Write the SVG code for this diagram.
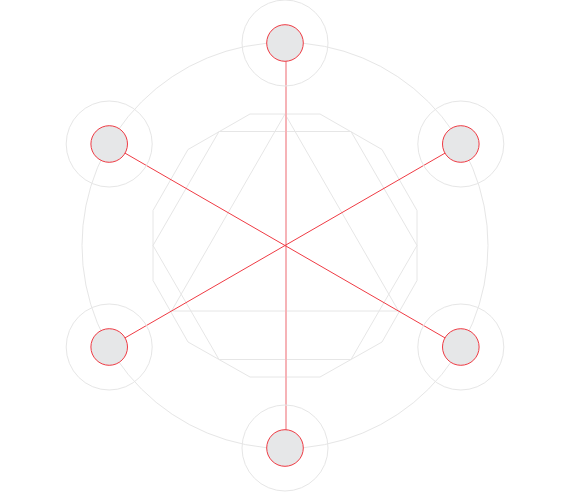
<svg xmlns="http://www.w3.org/2000/svg" width="570" height="492" viewBox="0 0 570 492">
<style>
.g{fill:none;stroke:#e6e6e6;stroke-width:1}
.c{stroke:#ef3b44;stroke-width:1;fill:none}
.v{stroke:#f6b3b7;stroke-width:2;fill:none}
.n{fill:#e6e7e8;stroke:#ef3b44;stroke-width:1}
.h{fill:none;stroke:#e6e6e6;stroke-width:1}
</style>
<rect width="570" height="492" fill="#ffffff"/>
<g id="guides">
<circle class="g" cx="285" cy="245.5" r="203"/>
<polygon class="g" points="250,114 320,114 382,149.5 417,210.5 417,280.5 382,342 320,377 250,377 188,342 153,280.5 153,210.5 188,149.5"/>
<polygon class="g" points="219,131.5 351,131.5 417,245.5 351,359.5 219,359.5 153,245.5"/>
<polygon class="g" points="285,114 398.5,311 171.5,311"/>
</g>
<g id="connectors">
<line class="v" x1="286" y1="43" x2="286" y2="448"/>
<line class="c" x1="109.2" y1="144" x2="460.8" y2="347"/>
<line class="c" x1="460.8" y1="144" x2="109.2" y2="347"/>
</g>
<g id="node-top"><circle class="h" cx="285" cy="43" r="43"/><circle class="n" cx="285" cy="43" r="18.3"/></g>
<g id="node-upper-right"><circle class="h" cx="460.8" cy="144" r="43"/><circle class="n" cx="460.8" cy="144" r="18.3"/></g>
<g id="node-lower-right"><circle class="h" cx="460.8" cy="347" r="43"/><circle class="n" cx="460.8" cy="347" r="18.3"/></g>
<g id="node-bottom"><circle class="h" cx="285" cy="448" r="43"/><circle class="n" cx="285" cy="448" r="18.3"/></g>
<g id="node-lower-left"><circle class="h" cx="109.2" cy="347" r="43"/><circle class="n" cx="109.2" cy="347" r="18.3"/></g>
<g id="node-upper-left"><circle class="h" cx="109.2" cy="144" r="43"/><circle class="n" cx="109.2" cy="144" r="18.3"/></g>
</svg>
